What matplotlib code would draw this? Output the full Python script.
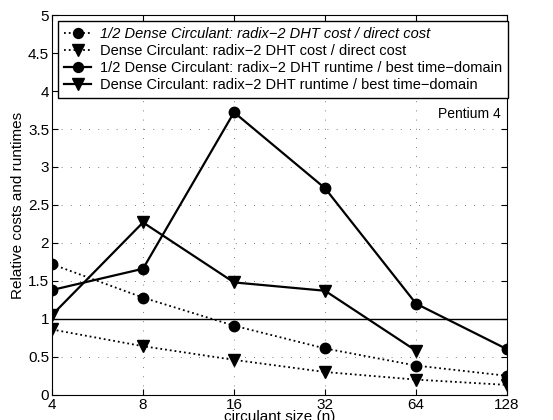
import matplotlib
matplotlib.use("Agg")
import matplotlib.pyplot as plt

plt.rcParams['font.family'] = ['Liberation Sans', 'DejaVu Sans']

sizes = [4, 8, 16, 32, 64, 128]
half_cost = [1.72, 1.28, 0.91, 0.61, 0.385, 0.25]
dense_cost = [0.86, 0.64, 0.46, 0.30, 0.20, 0.13]
half_runtime = [1.38, 1.66, 3.72, 2.72, 1.20, 0.60]
dense_sizes = [4, 8, 16, 32, 64]
dense_runtime = [1.05, 2.27, 1.48, 1.37, 0.58]

labels = [
    "1/2 Dense Circulant: radix\u22122 DHT cost / direct cost",
    "Dense Circulant: radix\u22122 DHT cost / direct cost",
    "1/2 Dense Circulant: radix\u22122 DHT runtime / best time\u2212domain",
    "Dense Circulant: radix\u22122 DHT runtime / best time\u2212domain",
]

fig = plt.figure(figsize=(5.53, 4.2), dpi=100)
ax = fig.add_axes([0.094, 0.06, 0.823, 0.904])

ax.set_xscale('log', base=2)
ax.plot(sizes, half_cost, linestyle=':', color='black', marker='o', markersize=7.5, lw=1.3, label=labels[0])
ax.plot(sizes, dense_cost, linestyle=':', color='black', marker='v', markersize=8.5, lw=1.3, label=labels[1])
ax.plot(sizes, half_runtime, linestyle='-', color='black', marker='o', markersize=7.5, lw=1.6, label=labels[2])
ax.plot(dense_sizes, dense_runtime, linestyle='-', color='black', marker='v', markersize=8.5, lw=1.6, label=labels[3])
ax.axhline(1.0, color='black', lw=1.0)

ax.set_xlim(4, 128)
ax.set_ylim(0, 5)
ax.set_xticks(sizes)
ax.set_xticklabels([str(s) for s in sizes])
ax.minorticks_off()
ax.set_yticks([0, 0.5, 1, 1.5, 2, 2.5, 3, 3.5, 4, 4.5, 5])
ax.set_yticklabels(['0', '0.5', '1', '1.5', '2', '2.5', '3', '3.5', '4', '4.5', '5'])
ax.tick_params(direction='in', top=True, right=True, labelsize=11, length=4, pad=2)
ax.grid(True, color='#555555', linestyle=(0, (1, 10)), lw=0.6)

ax.set_xlabel("circulant size (n)", fontsize=11, labelpad=-1)
ax.set_ylabel("Relative costs and runtimes", fontsize=11, labelpad=2)
ax.text(0.985, 0.74, "Pentium 4", transform=ax.transAxes, ha='right', va='center', fontsize=10)

leg = ax.legend(loc='upper left', fontsize=10.5, frameon=True, fancybox=False,
                edgecolor='black', framealpha=1, borderpad=0.4, labelspacing=0.22,
                handlelength=1.9, handletextpad=0.6, borderaxespad=0.4,
                markerscale=0.95)
leg.get_frame().set_linewidth(1.0)
leg.get_texts()[0].set_fontstyle('italic')

fig.savefig("out.png", dpi=100)
